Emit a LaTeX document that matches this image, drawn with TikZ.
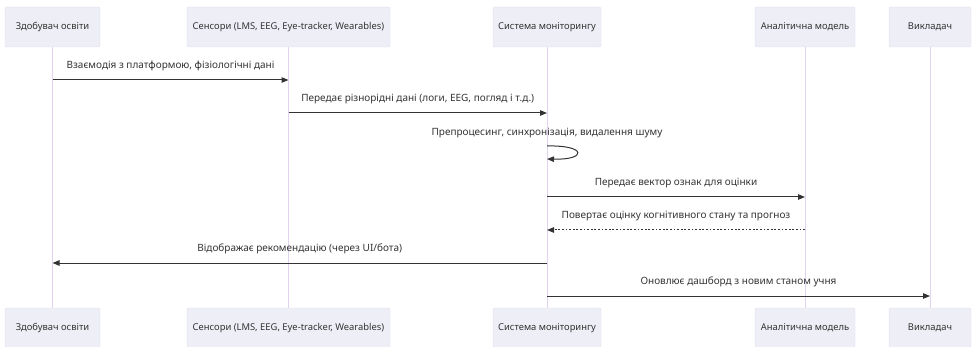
\documentclass[tikz,border=0pt]{standalone}
\usepackage{fontspec}
\setmainfont{Noto Sans}
\usetikzlibrary{arrows.meta}
\definecolor{actorfill}{RGB}{238,238,247}
\definecolor{actorline}{RGB}{221,219,236}
\definecolor{lifecol}{RGB}{224,212,240}
\definecolor{inkcol}{RGB}{51,51,51}
\tikzset{
	actor/.style={draw=actorline, fill=actorfill, rounded corners=2pt,
		minimum height=40pt, inner sep=0pt, text=inkcol,
		font=\fontsize{9.4}{11}\selectfont},
	life/.style={draw=lifecol, line width=0.9pt},
	msg/.style={draw=inkcol, line width=1pt,
		-{Triangle[length=7pt,width=5.5pt]}},
	reply/.style={msg, dash pattern=on 1.8pt off 1.8pt},
	msglabel/.style={inner sep=0pt, text=inkcol,
		font=\fontsize{10}{12}\selectfont}
}
\begin{document}
\begin{tikzpicture}[x=1pt,y=-1pt]
	\useasboundingbox (0,0) rectangle (976,347);

	% actors (top row)
	\node[actor, minimum width=95pt]  (learnT) at (52.5,27) {Здобувач освіти};
	\node[actor, minimum width=203pt] (sensT)  at (288.5,27) {Сенсори (LMS, EEG, Eye-tracker, Wearables)};
	\node[actor, minimum width=108pt] (sysT)   at (547,27) {Система моніторингу};
	\node[actor, minimum width=100pt] (modelT) at (805,27) {Аналітична модель};
	\node[actor, minimum width=82pt]  (teachT) at (930,27) {Викладач};

	% actors (bottom row)
	\node[actor, minimum width=95pt]  (learnB) at (52.5,328) {Здобувач освіти};
	\node[actor, minimum width=203pt] (sensB)  at (288.5,328) {Сенсори (LMS, EEG, Eye-tracker, Wearables)};
	\node[actor, minimum width=108pt] (sysB)   at (547,328) {Система моніторингу};
	\node[actor, minimum width=100pt] (modelB) at (805,328) {Аналітична модель};
	\node[actor, minimum width=82pt]  (teachB) at (930,328) {Викладач};

	% lifelines
	\foreach \a in {learn,sens,sys,model,teach}
		\draw[life] (\a T) -- (\a B);

	% messages
	\draw[msg] (learnT |- 0,80) -- node[msglabel, above=9pt] (m1)
		{Взаємодія з платформою, фізіологічні дані} (sensT |- 0,80);
	\draw[msg] (sensT |- 0,113) -- node[msglabel, above=9pt] (m2)
		{Передає різнорідні дані (логи, EEG, погляд і т.д.)} (sysT |- 0,113);

	\node[msglabel] (m3) at (sysT |- 0,133) {Препроцесинг, синхронізація, видалення шуму};
	\draw[msg] (sysT |- 0,146) .. controls +(40,-1) and +(40,1) .. (sysT |- 0,159);

	\draw[msg] (sysT |- 0,197) -- node[msglabel, above=9pt] (m4)
		{Передає вектор ознак для оцінки} (modelT |- 0,197);
	\draw[reply] (modelT |- 0,230) -- node[msglabel, above=9pt] (m5)
		{Повертає оцінку когнітивного стану та прогноз} (sysT |- 0,230);
	\draw[msg] (sysT |- 0,263) -- node[msglabel, above=9pt] (m6)
		{Відображає рекомендацію (через UI/бота)} (learnT |- 0,263);
	\draw[msg] (sysT |- 0,296) -- node[msglabel, above=9pt] (m7)
		{Оновлює дашборд з новим станом учня} (teachT |- 0,296);
\end{tikzpicture}
\end{document}
